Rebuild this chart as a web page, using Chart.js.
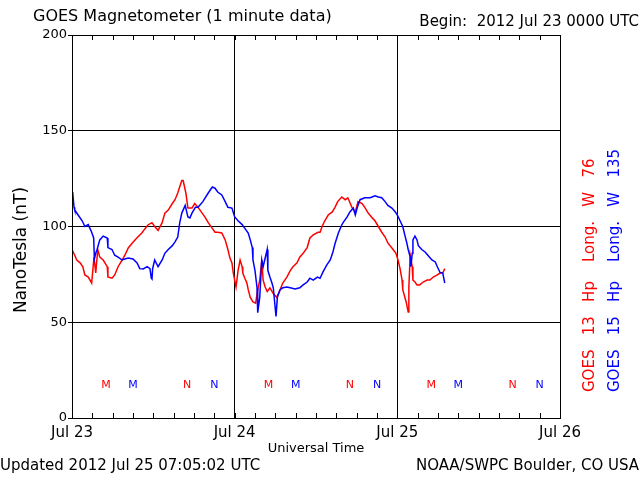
<!DOCTYPE html>
<html>
<head>
<meta charset="utf-8">
<script src="https://cdn.jsdelivr.net/npm/chart.js@4.4.0/dist/chart.umd.min.js"></script>
<style>
html, body { margin: 0; padding: 0; background: #fff; }
#wrap { width: 640px; height: 480px; }
</style>
</head>
<body>
<div id="wrap"><canvas id="mag" width="640" height="480"></canvas></div>
<script>
// hours since 2012 Jul 23 00:00 UTC
var hours13 = [0.0, 0.4, 0.7, 1.2, 1.6, 1.9, 2.4, 2.9, 3.25, 3.5,
  3.8, 4.1, 4.6, 5.2, 5.3, 5.9, 6.3, 6.8, 7.4, 7.8,
  8.3, 8.9, 9.3, 9.7, 10.3, 10.8, 11.2, 11.8, 12.2, 12.7,
  13.3, 13.7, 14.2, 14.8, 15.2, 15.6, 16.2, 16.4, 16.8, 17.1,
  17.7, 18.1, 18.6, 19.2, 19.6, 20.1, 20.7, 21.1, 21.5, 22.1,
  22.6, 23.0, 23.3, 23.6, 23.8, 24.0, 24.2, 24.5, 24.8, 25.1,
  25.2, 25.5, 25.8, 26.0, 26.3, 26.7, 27.1, 27.4, 27.7, 28.0,
  28.2, 28.5, 28.8, 29.2, 29.7, 30.2, 30.7, 31.1, 31.7, 32.2,
  32.6, 33.2, 33.6, 34.1, 34.7, 35.1, 35.6, 36.3, 36.6, 36.9,
  37.3, 37.8, 38.4, 38.8, 39.2, 39.8, 40.3, 40.7, 41.3, 41.8,
  42.2, 42.8, 43.2, 43.7, 44.3, 44.7, 45.2, 45.7, 46.2, 46.6,
  47.2, 47.8, 48.1, 48.4, 48.7, 48.8, 49.3, 49.6, 49.7, 49.9,
  50.2, 50.3, 50.6, 50.9, 51.3, 51.8, 52.4, 52.8, 53.3, 53.9,
  54.3, 54.7, 55.0];
var nt13 = [88, 85, 82.5, 81, 79, 74.7, 73.6, 70.5, 84, 75.7,
  88, 84, 82.5, 79, 73.6, 73, 74.7, 79, 82.5, 85,
  88.8, 91.4, 93, 94.5, 96.6, 99, 100.8, 102, 100, 98,
  102, 107, 108.6, 112, 114, 117.5, 124, 124, 117.5, 109.6,
  109.6, 112, 110, 107, 105, 102, 99, 97, 97, 96.6,
  93, 88, 83.5, 81, 75.7, 72, 68.4, 77, 82.5, 79,
  75.7, 73, 70.5, 67, 63, 60.6, 60, 67, 72, 82.5,
  72, 68.4, 66, 68, 65, 63, 67, 70.5, 73.6, 77,
  79, 81, 84, 86, 89, 94, 95.6, 97, 97, 100,
  103, 106, 107.6, 110, 113, 115.4, 114, 115, 110, 107.6,
  113, 112, 110, 107, 104.5, 103, 100, 97, 94.5, 91.4,
  88.8, 86, 82.5, 78, 72, 67, 60.6, 55.4, 68.4, 85,
  79, 72, 71, 69.5, 69.5, 71, 72, 72, 73.6, 74.7,
  75.7, 75.7, 78];

var hours15 = [0.0, 0.1, 0.3, 0.4, 0.9, 1.5, 1.9, 2.4, 2.9, 3.2,
  3.3, 3.5, 3.7, 4.1, 4.6, 5.2, 5.3, 5.9, 6.3, 6.8,
  7.4, 7.8, 8.3, 9.0, 9.6, 10.0, 10.5, 11.1, 11.5, 11.7,
  11.8, 11.9, 12.2, 12.7, 13.3, 13.7, 14.2, 14.8, 15.2, 15.6,
  15.9, 16.2, 16.7, 17.1, 17.4, 17.7, 18.2, 18.6, 19.3, 20.1,
  20.7, 21.1, 21.5, 22.1, 22.6, 23.0, 23.6, 24.0, 24.5, 25.1,
  25.5, 26.0, 26.3, 26.6, 26.7, 27.0, 27.3, 27.4, 27.7, 28.0,
  28.2, 28.8, 28.9, 29.2, 29.5, 29.7, 30.1, 30.3, 30.7, 31.1,
  31.7, 32.2, 32.9, 33.6, 34.1, 34.7, 35.1, 35.6, 36.2, 36.6,
  37.0, 37.6, 38.1, 38.5, 38.8, 39.3, 39.8, 40.0, 40.6, 41.0,
  41.5, 41.8, 42.1, 42.5, 43.2, 44.0, 44.7, 45.2, 45.7, 46.2,
  46.6, 47.2, 47.7, 48.0, 48.4, 48.8, 49.1, 49.4, 49.6, 49.9,
  50.0, 50.2, 50.3, 50.6, 50.9, 51.1, 51.6, 52.1, 52.5, 53.1,
  53.6, 53.9, 54.3, 54.7, 55.0];
var nt15 = [112, 118, 110, 108.6, 106, 103, 100, 101, 97, 94,
  83, 86, 88, 93, 95, 94, 89, 88, 85, 84,
  82.5, 83, 83.5, 83, 81, 78, 77.8, 79, 78, 73,
  72.6, 78, 82.5, 79, 82.5, 86, 88, 90, 92, 94.5,
  102, 107, 111, 105, 104.5, 107, 110, 110, 113, 117.5,
  120.6, 120, 118, 116.5, 113, 110, 109.6, 105, 103, 101,
  99, 96.6, 93, 89, 82.5, 77, 68, 55, 63, 82.5,
  79, 88, 77, 73.6, 70.5, 68, 53, 63, 67, 68,
  68.4, 68, 67.4, 68, 69.5, 71, 73, 72, 73.6, 73,
  76, 80, 82.5, 86.7, 91, 96.6, 100.8, 102, 105, 107.6,
  109.6, 106, 110, 114, 115, 115, 116, 115.4, 115, 113,
  111, 109.6, 107.6, 106, 103, 100, 95.6, 91.4, 88, 84,
  79, 86, 93, 95, 93, 90, 88, 86.7, 85, 82.5,
  81.5, 79, 76, 75.7, 70.5];

var dayLabels = ['Jul 23', 'Jul 24', 'Jul 25', 'Jul 26'];

// local midnight / noon markers (hours)
var m13 = [5, 29, 53];
var n13 = [17, 41, 65];
var m15 = [9, 33, 57];
var n15 = [21, 45, 69];
var markLevel = 17;

var RED = '#ff0000';
var BLUE = '#0000ff';
var FONT = "'DejaVu Sans', sans-serif";

function points(h, v) {
  return h.map(function(x, i) { return {x: x, y: v[i]}; });
}

var goesDecor = {
  id: 'goesDecor',
  afterDraw: function(chart) {
    var ctx = chart.ctx;
    var a = chart.chartArea;
    var xs = chart.scales.x, ys = chart.scales.y;
    ctx.save();

    // box + inward 3-hour ticks
    ctx.strokeStyle = '#000';
    ctx.lineWidth = 1;
    ctx.beginPath();
    ctx.rect(Math.round(a.left) + 0.5, Math.round(a.top) + 0.5,
      Math.round(a.right - a.left), Math.round(a.bottom - a.top));
    xs.ticks.forEach(function(t) {
      var px = Math.round(xs.getPixelForValue(t.value)) + 0.5;
      ctx.moveTo(px, a.bottom); ctx.lineTo(px, a.bottom - 5);
      ctx.moveTo(px, a.top); ctx.lineTo(px, a.top + 5);
    });
    ctx.stroke();

    // M / N markers
    ctx.font = '11px ' + FONT;
    ctx.textAlign = 'center';
    ctx.textBaseline = 'middle';
    var py = ys.getPixelForValue(markLevel);
    [[m13, 'M', RED], [n13, 'N', RED], [m15, 'M', BLUE], [n15, 'N', BLUE]].forEach(function(s) {
      ctx.fillStyle = s[2];
      s[0].forEach(function(h) { ctx.fillText(s[1], xs.getPixelForValue(h), py); });
    });

    // header / footer text
    ctx.fillStyle = '#000';
    ctx.textAlign = 'left';
    ctx.font = '16px ' + FONT;
    ctx.fillText('GOES Magnetometer (1 minute data)', 33, 17);
    ctx.font = '15px ' + FONT;
    ctx.textAlign = 'right';
    ctx.fillText('Begin:  2012 Jul 23 0000 UTC', 639, 22);
    ctx.textAlign = 'left';
    ctx.fillText('Updated 2012 Jul 25 07:05:02 UTC', 0, 466);
    ctx.textAlign = 'right';
    ctx.fillText('NOAA/SWPC Boulder, CO USA', 639, 466);
    ctx.textAlign = 'center';
    ctx.font = '13px ' + FONT;
    ctx.fillText('Universal Time', (a.left + a.right) / 2, 449);

    // y title
    ctx.save();
    ctx.translate(22, 250);
    ctx.rotate(-Math.PI / 2);
    ctx.font = '17px ' + FONT;
    ctx.fillText('NanoTesla (nT)', 0, 0);
    ctx.restore();

    // satellite labels
    ctx.font = '15px ' + FONT;
    ctx.textAlign = 'left';
    [[590, RED, 'GOES   13   Hp    Long.   W   76'], [615, BLUE, 'GOES   15   Hp    Long.   W   135']].forEach(function(s) {
      ctx.save();
      ctx.translate(s[0], 392);
      ctx.rotate(-Math.PI / 2);
      ctx.fillStyle = s[1];
      ctx.fillText(s[2], 0, 0);
      ctx.restore();
    });
    ctx.restore();
  }
};

Chart.defaults.color = '#000';
Chart.defaults.font.family = FONT;

new Chart(document.getElementById('mag'), {
  type: 'line',
  data: {
    datasets: [{
      label: 'GOES 15 Hp',
      data: points(hours15, nt15),
      borderColor: BLUE,
      borderWidth: 1.5,
      pointRadius: 0,
      tension: 0,
      fill: false
    }, {
      label: 'GOES 13 Hp',
      data: points(hours13, nt13),
      borderColor: RED,
      borderWidth: 1.5,
      pointRadius: 0,
      tension: 0,
      fill: false
    }]
  },
  options: {
    responsive: false,
    animation: false,
    layout: { padding: { top: 35, right: 80, left: 0, bottom: 0 } },
    plugins: {
      legend: { display: false },
      tooltip: { enabled: false },
      title: { display: false }
    },
    scales: {
      x: {
        type: 'linear',
        min: 0,
        max: 72,
        afterFit: function(s) { s.height = 62; },
        border: { display: true, color: '#000', width: 1 },
        grid: {
          drawTicks: false,
          lineWidth: 1,
          color: function(c) { return c.tick && c.tick.value % 24 === 0 ? '#000' : 'rgba(0,0,0,0)'; }
        },
        ticks: {
          stepSize: 3,
          autoSkip: false,
          maxRotation: 0,
          padding: 6,
          font: { size: 15 },
          callback: function(v) { return v % 24 === 0 ? dayLabels[v / 24] : ''; }
        }
      },
      y: {
        min: 0,
        max: 200,
        afterFit: function(s) { s.width = 72; },
        border: { display: true, color: '#000', width: 1 },
        grid: { color: '#000', lineWidth: 1, drawTicks: true, tickLength: 4, tickColor: '#000' },
        ticks: { stepSize: 50, padding: 1, font: { size: 13 } }
      }
    }
  },
  plugins: [goesDecor]
});
</script>
</body>
</html>
